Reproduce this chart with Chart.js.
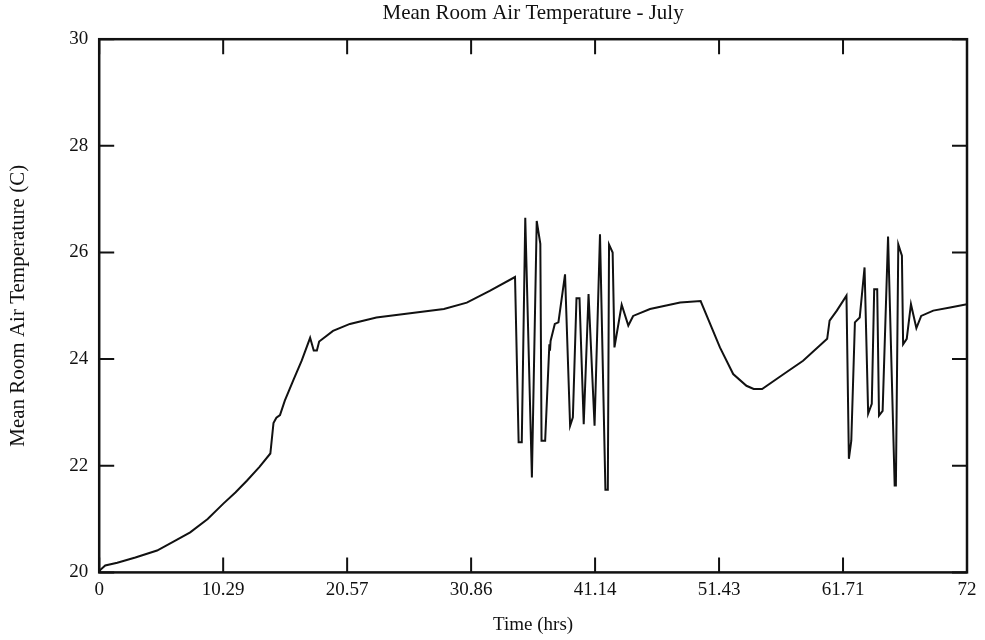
<!DOCTYPE html>
<html>
<head>
<meta charset="utf-8">
<script src="https://cdn.jsdelivr.net/npm/chart.js@4.4.1/dist/chart.umd.min.js"></script>
<style>
  html, body { margin: 0; padding: 0; background: #fff; }
  #wrap { width: 985px; height: 640px; }
</style>
</head>
<body>
<div id="wrap"><canvas id="tempchart"></canvas></div>
<script>
// room air temperature over three days (hours, deg C)
const hours = [
    0, 0.1, 0.5, 1.5, 3.0, 4.8, 6.2, 7.55, 9.0, 10.3, 11.3, 12.25, 13.3, 14.2,
    14.46, 14.7, 15.0, 15.4, 16.1, 16.8, 17.5, 17.8, 18.06, 18.25, 19.4, 20.8,
    23.0, 25.8, 28.6, 30.5, 32.4, 34.5, 34.8, 35.06, 35.35, 35.9, 36.3, 36.6,
    36.7, 37.0, 37.35, 37.4, 37.45, 37.8, 38.1, 38.65, 39.07, 39.3, 39.6, 39.85,
    40.2, 40.6, 41.1, 41.55, 42.0, 42.2, 42.3, 42.6, 42.75, 43.35, 43.9, 44.3,
    45.7, 48.2, 49.9, 51.5, 52.6, 53.7, 54.3, 55.0, 56.8, 58.4, 60.4, 60.6,
    61.2, 62.0, 62.2, 62.4, 62.7, 63.1, 63.5, 63.8, 64.1, 64.3, 64.55, 64.7,
    65.0, 65.45, 66.0, 66.1, 66.3, 66.6, 66.7, 67.0, 67.35, 67.8, 68.2, 69.2,
    70.6, 72.0
];
const tempC = [
    20.0, 20.05, 20.13, 20.18, 20.28, 20.41, 20.58, 20.75, 21.0, 21.29, 21.5, 21.72, 21.98, 22.23,
    22.8, 22.9, 22.95, 23.22, 23.6, 23.97, 24.4, 24.16, 24.16, 24.33, 24.53, 24.66,
    24.78, 24.86, 24.94, 25.06, 25.28, 25.54, 22.44, 22.44, 26.65, 21.78, 26.59, 26.16,
    22.47, 22.47, 24.28, 24.16, 24.34, 24.66, 24.69, 25.59, 22.75, 22.91, 25.14, 25.14,
    22.78, 25.22, 22.75, 26.34, 21.55, 21.55, 26.15, 26.0, 24.22, 25.02, 24.63, 24.81,
    24.94, 25.06, 25.09, 24.22, 23.72, 23.5, 23.44, 23.44, 23.72, 23.97, 24.38, 24.72,
    24.91, 25.19, 22.13, 22.47, 24.69, 24.78, 25.72, 22.98, 23.16, 25.31, 25.31, 22.94,
    23.03, 26.3, 21.63, 21.63, 26.15, 25.94, 24.28, 24.38, 25.03, 24.58, 24.81, 24.91,
    24.97, 25.03
];
const xTickLabels = ['0', '10.29', '20.57', '30.86', '41.14', '51.43', '61.71', '72'];
const yTickValues = [20, 22, 24, 26, 28, 30];

const serif = '"Liberation Serif", "DejaVu Serif", serif';

// ticks point into the plot on all four sides, plus a full frame
const innerTicks = {
    id: 'innerTicks',
    afterDraw(chart) {
        const ctx = chart.ctx;
        const a = chart.chartArea;
        const xs = chart.scales.x, ys = chart.scales.y;
        const len = 15;
        ctx.save();
        ctx.strokeStyle = '#111';
        ctx.lineWidth = 2.5;
        ctx.strokeRect(a.left, a.top, a.right - a.left, a.bottom - a.top);
        ctx.lineWidth = 2;
        ctx.beginPath();
        xs.ticks.forEach(t => {
            const px = xs.getPixelForValue(t.value);
            ctx.moveTo(px, a.bottom); ctx.lineTo(px, a.bottom - len);
            ctx.moveTo(px, a.top); ctx.lineTo(px, a.top + len);
        });
        ys.ticks.forEach(t => {
            const py = ys.getPixelForValue(t.value);
            ctx.moveTo(a.left, py); ctx.lineTo(a.left + len, py);
            ctx.moveTo(a.right, py); ctx.lineTo(a.right - len, py);
        });
        ctx.stroke();
        ctx.restore();
    }
};

new Chart(document.getElementById('tempchart'), {
    type: 'line',
    data: {
        datasets: [{
            data: hours.map((h, i) => ({ x: h, y: tempC[i] })),
            borderColor: '#111',
            borderWidth: 2,
            pointRadius: 0,
            tension: 0,
            fill: false
        }]
    },
    options: {
        responsive: true,
        maintainAspectRatio: false,
        animation: false,
        layout: { padding: { left: 6, right: 18, top: 1, bottom: 4 } },
        plugins: {
            legend: { display: false },
            tooltip: { enabled: false },
            title: {
                display: true,
                fullSize: false,
                text: 'Mean Room Air Temperature - July',
                color: '#111',
                font: { family: serif, size: 21, weight: 'normal' },
                padding: { top: 0, bottom: 13 }
            }
        },
        scales: {
            x: {
                type: 'linear',
                min: 0,
                max: 72,
                afterBuildTicks: scale => {
                    scale.ticks = xTickLabels.map((_, i) => ({ value: i * 72 / 7 }));
                },
                ticks: {
                    color: '#111',
                    font: { family: serif, size: 19 },
                    padding: 6,
                    maxRotation: 0,
                    autoSkip: false,
                    callback: (v, i) => xTickLabels[i]
                },
                grid: { display: false, drawTicks: false },
                border: { display: false },
                title: {
                    display: true,
                    text: 'Time (hrs)',
                    color: '#111',
                    font: { family: serif, size: 19 },
                    padding: { top: 6, bottom: 0 }
                }
            },
            y: {
                type: 'linear',
                min: 20,
                max: 30,
                afterBuildTicks: scale => {
                    scale.ticks = yTickValues.map(v => ({ value: v }));
                },
                ticks: {
                    color: '#111',
                    font: { family: serif, size: 19 },
                    padding: 11
                },
                grid: { display: false, drawTicks: false },
                border: { display: false },
                title: {
                    display: true,
                    text: 'Mean Room Air Temperature (C)',
                    color: '#111',
                    font: { family: serif, size: 21 },
                    padding: { top: 0, bottom: 27 }
                }
            }
        }
    },
    plugins: [innerTicks]
});
</script>
</body>
</html>
